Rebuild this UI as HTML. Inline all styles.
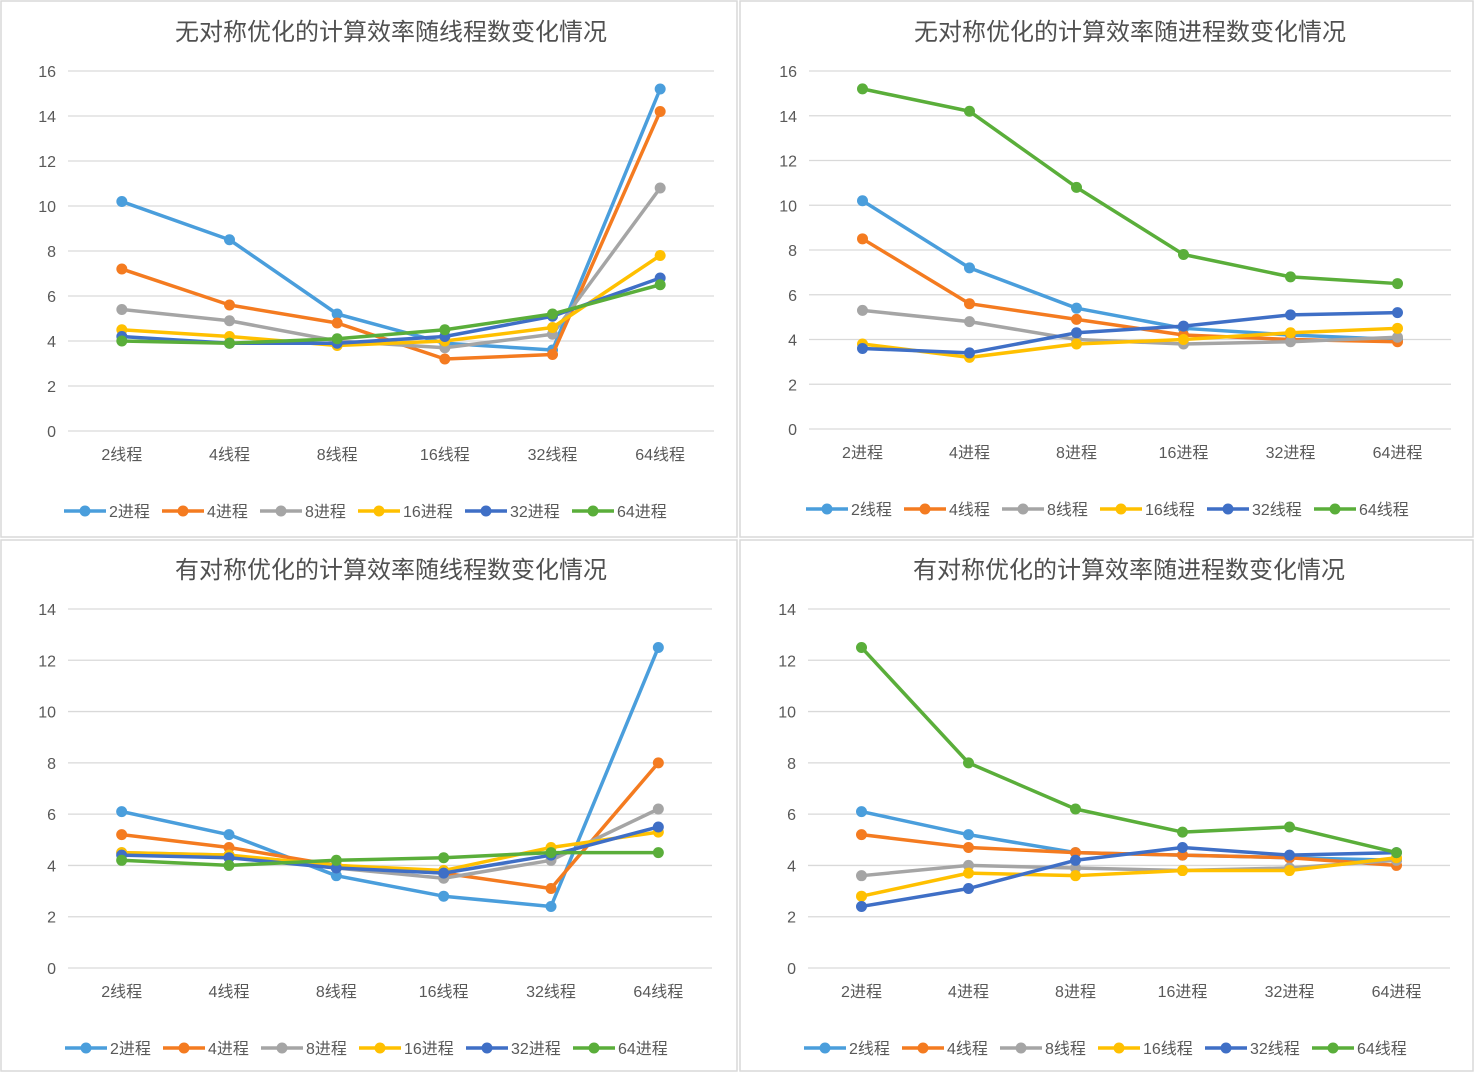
<!DOCTYPE html>
<html><head><meta charset="utf-8">
<style>
html,body{margin:0;padding:0;background:#fff;}
body{width:1474px;height:1072px;position:relative;overflow:hidden;font-family:"Liberation Sans","Noto Sans CJK SC",sans-serif;}
svg{position:absolute;left:0;top:0;}
</style></head>
<body>
<svg id="chart" width="1474" height="1072" xmlns="http://www.w3.org/2000/svg"></svg>
<script>
const colors = ["#4A9EDC","#F47B20","#A5A5A5","#FFC000","#3F6FC6","#5AAE3A"];
const catsThread = ["2线程","4线程","8线程","16线程","32线程","64线程"];
const catsProc = ["2进程","4进程","8进程","16进程","32进程","64进程"];
const names1 = ["2进程","4进程","8进程","16进程","32进程","64进程"];
const names2 = ["2线程","4线程","8线程","16线程","32线程","64线程"];
const ticks16 = [0,2,4,6,8,10,12,14,16];
const ticks14 = [0,2,4,6,8,10,12,14];

const c1s0=[10.2,8.5,5.2,3.9,3.6,15.2];
const c1s1=[7.2,5.6,4.8,3.2,3.4,14.2];
const c1s2=[5.4,4.9,4.0,3.7,4.3,10.8];
const c1s3=[4.5,4.2,3.8,4.0,4.6,7.8];
const c1s4=[4.2,3.9,3.9,4.2,5.1,6.8];
const c1s5=[4.0,3.9,4.1,4.5,5.2,6.5];

const c2s0=[10.2,7.2,5.4,4.5,4.2,4.0];
const c2s1=[8.5,5.6,4.9,4.2,4.0,3.9];
const c2s2=[5.3,4.8,4.0,3.8,3.9,4.1];
const c2s3=[3.8,3.2,3.8,4.0,4.3,4.5];
const c2s4=[3.6,3.4,4.3,4.6,5.1,5.2];
const c2s5=[15.2,14.2,10.8,7.8,6.8,6.5];

const c3s0=[6.1,5.2,3.6,2.8,2.4,12.5];
const c3s1=[5.2,4.7,4.0,3.7,3.1,8.0];
const c3s2=[4.5,4.4,3.9,3.5,4.2,6.2];
const c3s3=[4.5,4.4,4.0,3.8,4.7,5.3];
const c3s4=[4.4,4.3,3.9,3.7,4.4,5.5];
const c3s5=[4.2,4.0,4.2,4.3,4.5,4.5];

const c4s0=[6.1,5.2,4.5,4.4,4.3,4.2];
const c4s1=[5.2,4.7,4.5,4.4,4.3,4.0];
const c4s2=[3.6,4.0,3.9,3.8,3.9,4.2];
const c4s3=[2.8,3.7,3.6,3.8,3.8,4.3];
const c4s4=[2.4,3.1,4.2,4.7,4.4,4.5];
const c4s5=[12.5,8.0,6.2,5.3,5.5,4.5];

const svg=document.getElementById('chart');
const NS="http://www.w3.org/2000/svg";
function mk(tag,attrs,parent){const e=document.createElementNS(NS,tag);for(const k in attrs)e.setAttribute(k,attrs[k]);(parent||svg).appendChild(e);return e;}

function drawChart(cfg){
  const g=mk('g',{});
  
  
  const bg=mk('rect',{x:cfg.px,y:cfg.py,width:cfg.pw,height:cfg.ph,fill:'#fff',stroke:'#d9d9d9','stroke-width':1.5},g);
  
  
  const t=mk('text',{x:cfg.titleX,y:cfg.titleY,'text-anchor':'middle','font-size':24,fill:'#505050'},g);
  t.textContent=cfg.title;
  
  
  const ymax=cfg.ticks[cfg.ticks.length-1];
  const yS=v=>cfg.y0-(cfg.y0-cfg.yTop)*v/ymax;
  const step=(cfg.x1-cfg.x0)/cfg.cats.length;
  const xS=i=>cfg.x0+step*(i+0.5);
  cfg.ticks.forEach(v=>{
    const l=mk('line',{x1:cfg.x0,x2:cfg.x1,y1:yS(v),y2:yS(v),stroke:'#d9d9d9','stroke-width':1.3},g);
    
    
    const tl=mk('text',{x:cfg.x0-12,y:yS(v)+6,'text-anchor':'end','font-size':16,fill:'#595959'},g);
    tl.textContent=v;
    
    
  });
  cfg.cats.forEach((c,i)=>{
    const tl=mk('text',{x:xS(i),y:cfg.y0+29,'text-anchor':'middle','font-size':16,fill:'#595959'},g);
    tl.textContent=c;
    
    
  });
  cfg.series.forEach((s,si)=>{
    const pts=s.map((v,i)=>xS(i)+','+yS(v)).join(' ');
    const pl=mk('polyline',{points:pts,fill:'none',stroke:colors[si],'stroke-width':3.5,'stroke-linejoin':'round','stroke-linecap':'round'},g);
    
    
    s.forEach((v,i)=>{
      const c=mk('circle',{cx:xS(i),cy:yS(v),r:5.5,fill:colors[si]},g);
      
      
    });
  });
  let lx=cfg.legX;
  cfg.names.forEach((n,si)=>{
    const le=mk('g',{},g);
    
    
    mk('line',{x1:lx,x2:lx+42,y1:cfg.legY,y2:cfg.legY,stroke:colors[si],'stroke-width':3.5},le);
    mk('circle',{cx:lx+21,cy:cfg.legY,r:5.5,fill:colors[si]},le);
    const tx=mk('text',{x:lx+45,y:cfg.legY+6,'font-size':16,fill:'#595959'},le);
    tx.textContent=n;
    lx+=45+(n.length===3?53:62);
  });
}

drawChart({name:'chart-threads-no-opt',px:1,py:1,pw:736,ph:536,title:'无对称优化的计算效率随线程数变化情况',titleX:391,titleY:40,
  x0:68,x1:714,y0:431,yTop:71,ticks:ticks16,cats:catsThread,names:names1,series:[c1s0,c1s1,c1s2,c1s3,c1s4,c1s5],legX:64,legY:511});
drawChart({name:'chart-procs-no-opt',px:740,py:1,pw:733,ph:536,title:'无对称优化的计算效率随进程数变化情况',titleX:1130,titleY:40,
  x0:809,x1:1451,y0:429,yTop:71,ticks:ticks16,cats:catsProc,names:names2,series:[c2s0,c2s1,c2s2,c2s3,c2s4,c2s5],legX:806,legY:509});
drawChart({name:'chart-threads-opt',px:1,py:540,pw:736,ph:531,title:'有对称优化的计算效率随线程数变化情况',titleX:391,titleY:578,
  x0:68,x1:712,y0:968,yTop:609,ticks:ticks14,cats:catsThread,names:names1,series:[c3s0,c3s1,c3s2,c3s3,c3s4,c3s5],legX:65,legY:1048});
drawChart({name:'chart-procs-opt',px:740,py:540,pw:733,ph:531,title:'有对称优化的计算效率随进程数变化情况',titleX:1129,titleY:578,
  x0:808,x1:1450,y0:968,yTop:609,ticks:ticks14,cats:catsProc,names:names2,series:[c4s0,c4s1,c4s2,c4s3,c4s4,c4s5],legX:804,legY:1048});
</script>
</body></html>
